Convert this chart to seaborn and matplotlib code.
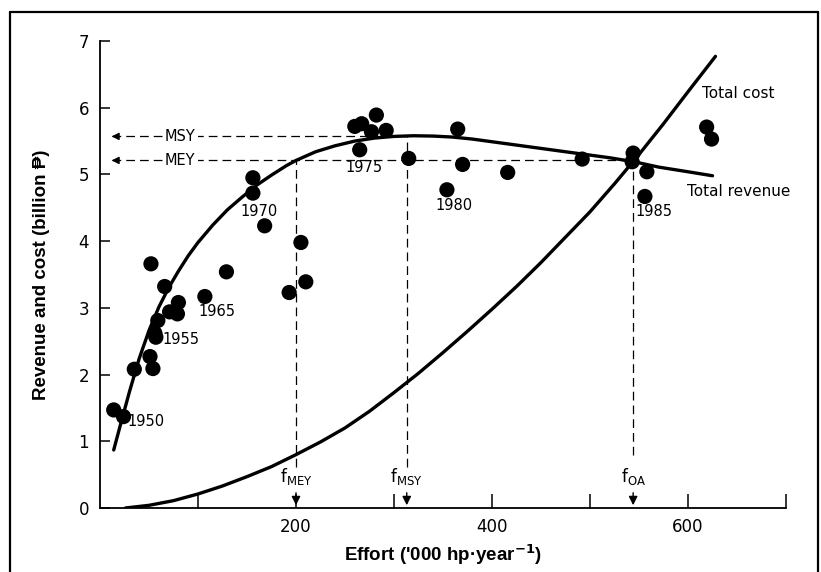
import numpy as np
import pandas as pd
import matplotlib
matplotlib.use('Agg')
import matplotlib.pyplot as plt
import seaborn as sns
from matplotlib.lines import Line2D

# ============================================================
# DATA
# ============================================================
effort_obs = [14, 24, 35, 51, 54, 52, 66, 59, 56, 57, 71, 80, 79, 107, 129,
              156, 156, 168, 193, 205, 210,
              260, 267, 282, 292, 277, 265, 315, 365, 370, 354, 416,
              492, 544, 543, 558, 556, 619, 624]
revenue_obs = [1.47, 1.37, 2.08, 2.27, 2.09, 3.66, 3.32, 2.81, 2.62, 2.56, 2.94, 3.08, 2.91, 3.17, 3.54,
               4.95, 4.72, 4.23, 3.23, 3.98, 3.39,
               5.72, 5.76, 5.89, 5.66, 5.64, 5.37, 5.24, 5.68, 5.15, 4.77, 5.03,
               5.23, 5.32, 5.19, 5.04, 4.67, 5.71, 5.53]

tr_effort = [14, 20, 30, 40, 50, 60, 70, 80, 90, 100, 115, 130, 145, 160, 175, 190, 200,
             220, 240, 260, 280, 300, 320, 340, 360, 380, 400, 430, 460, 490, 520, 545,
             570, 600, 625]
tr_value = [0.87, 1.20, 1.74, 2.24, 2.66, 3.01, 3.30, 3.55, 3.78, 3.98, 4.24, 4.47, 4.66, 4.84,
            4.99, 5.13, 5.21, 5.34, 5.43, 5.50, 5.545, 5.57, 5.58, 5.575, 5.56, 5.53, 5.49,
            5.43, 5.37, 5.31, 5.25, 5.19, 5.11, 5.04, 4.98]

tc_effort = [26, 50, 75, 100, 125, 150, 175, 200, 225, 250, 275, 300, 325, 350, 375, 400,
             425, 450, 475, 500, 525, 550, 575, 600, 628]
tc_value = [0.0, 0.04, 0.11, 0.21, 0.33, 0.47, 0.62, 0.80, 0.99, 1.20, 1.45, 1.73, 2.02, 2.33,
            2.65, 2.98, 3.32, 3.68, 4.06, 4.44, 4.86, 5.30, 5.76, 6.24, 6.77]

year_labels = ['1950', '1955', '1965', '1970', '1975', '1980', '1985']
year_x = [28, 64, 100, 143, 250, 342, 546]
year_y = [1.29, 2.52, 2.95, 4.45, 5.11, 4.54, 4.44]

msy, mey = 5.57, 5.21
f_mey, f_msy, f_oa = 200, 313, 544
ref_names = ['MEY', 'MSY', 'OA']
ref_x = [f_mey, f_msy, f_oa]
ref_top = [mey, msy, mey]
ref_bottom = [0.62, 0.62, 0.79]

# ============================================================
# PLOT
# ============================================================
sns.set_style('ticks')
plt.rcParams['font.family'] = ['DejaVu Sans']
plt.rcParams['mathtext.default'] = 'regular'
for k in ['text.color', 'axes.labelcolor', 'xtick.color', 'ytick.color', 'axes.edgecolor']:
    plt.rcParams[k] = 'black'

fig = plt.figure(figsize=(8.21, 5.72), dpi=100)
ax = fig.add_axes([0.1218, 0.1119, 0.8356, 0.8164])

df_obs = pd.DataFrame({'effort': effort_obs, 'revenue': revenue_obs})
df_tr = pd.DataFrame({'effort': tr_effort, 'value': tr_value})
df_tc = pd.DataFrame({'effort': tc_effort, 'value': tc_value})

sns.lineplot(data=df_tr, x='effort', y='value', sort=False, estimator=None,
             color='black', lw=2.4, ax=ax)
sns.lineplot(data=df_tc, x='effort', y='value', sort=False, estimator=None,
             color='black', lw=2.4, ax=ax)
sns.scatterplot(data=df_obs, x='effort', y='revenue', color='black', s=120,
                edgecolor='none', ax=ax, zorder=5)

dash = dict(color='black', lw=0.9, ls=(0, (7, 4)))

# garis horizontal MSY / MEY
ax.plot([12, f_msy], [msy, msy], **dash)
ax.plot([12, f_oa], [mey, mey], **dash)
for lvl in [msy, mey]:
    ax.annotate('', xy=(9, lvl), xytext=(22, lvl),
                arrowprops=dict(arrowstyle='-|>', color='black', lw=0.9, mutation_scale=11))
ax.text(82, msy, 'MSY', ha='center', va='center', fontsize=10.5,
        bbox=dict(facecolor='white', edgecolor='none', pad=1.5))
ax.text(82, mey, 'MEY', ha='center', va='center', fontsize=10.5,
        bbox=dict(facecolor='white', edgecolor='none', pad=1.5))

# garis vertikal f
for name, fx, top, bot in zip(ref_names, ref_x, ref_top, ref_bottom):
    ax.plot([fx, fx], [bot, top], **dash)
    ax.text(fx, 0.47, r'f$_{\mathregular{%s}}$' % name, ha='center', va='center', fontsize=12)
    ax.annotate('', xy=(fx, 0.0), xytext=(fx, 0.27),
                arrowprops=dict(arrowstyle='-|>', color='black', lw=1.0, mutation_scale=13))

# label tahun
for lab, lx, ly in zip(year_labels, year_x, year_y):
    ax.text(lx, ly, lab, ha='left', va='center', fontsize=10.5)

ax.text(614, 6.22, 'Total cost', ha='left', va='center', fontsize=11)
ax.text(599, 4.74, 'Total revenue', ha='left', va='center', fontsize=11)

# sumbu
ax.set_xlim(0, 700)
ax.set_ylim(0, 7)
ax.set_xticks([100, 200, 300, 400, 500, 600, 700])
ax.set_xticklabels(['', '200', '', '400', '', '600', ''])
ax.set_yticks(range(8))
ax.set_yticklabels([str(i) for i in range(8)])
ax.tick_params(axis='x', direction='in', length=10, width=1.1, labelsize=12, pad=7)
ax.tick_params(axis='y', direction='in', length=7, width=1.1, labelsize=12, pad=8)
sns.despine(ax=ax)
for sp in ['left', 'bottom']:
    ax.spines[sp].set_linewidth(1.3)

ax.set_xlabel("Effort ('000 hp·year$^{\\mathbf{-1}}$)", fontsize=13.5, fontweight='bold',
              family='Liberation Sans', labelpad=5)
ax.set_ylabel('Revenue and cost (billion ₱)', fontsize=13.5, fontweight='bold',
              family=['Liberation Sans', 'DejaVu Sans'], labelpad=20)

# bingkai luar
for xs, ys in [([0.012, 0.012], [0.0, 0.979]), ([0.012, 0.996], [0.979, 0.979]),
               ([0.996, 0.996], [0.979, 0.0])]:
    fig.add_artist(Line2D(xs, ys, color='black', lw=1.6, transform=fig.transFigure))

plt.savefig('out.png', dpi=100)
plt.close()
